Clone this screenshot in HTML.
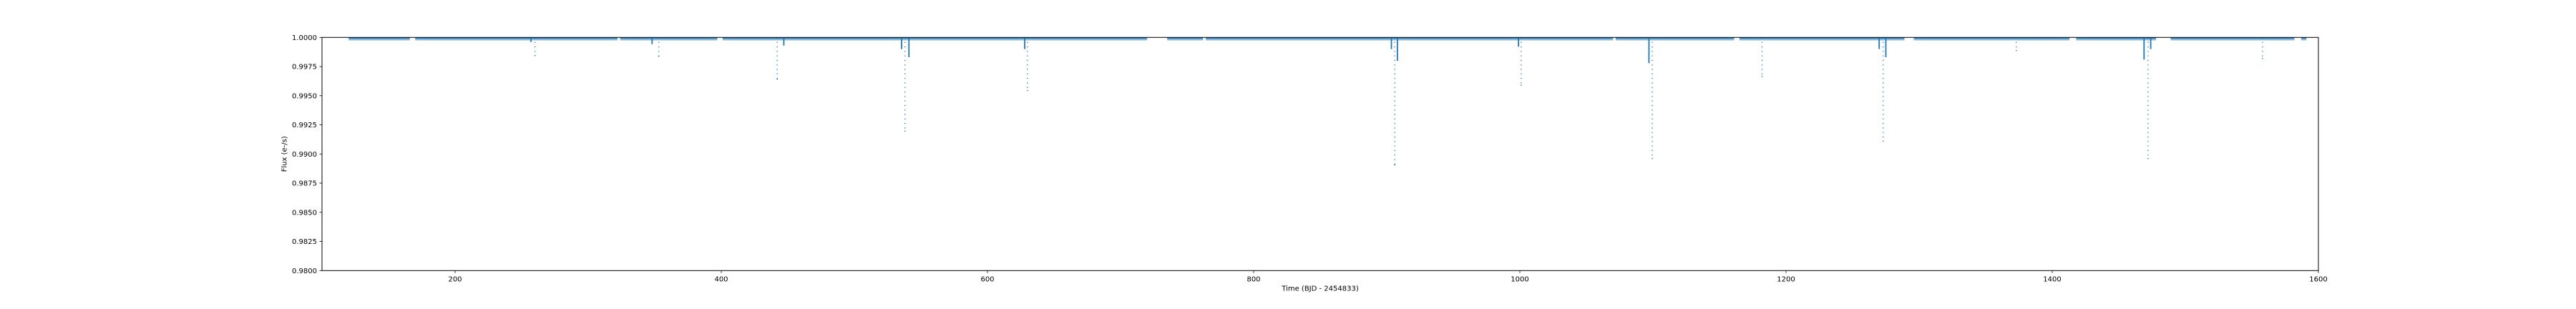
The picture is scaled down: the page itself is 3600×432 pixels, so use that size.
<!DOCTYPE html>
<html><head><meta charset="utf-8"><style>
html,body{margin:0;padding:0;background:#fff;}
svg{display:block;font-family:"DejaVu Sans","Liberation Sans",sans-serif;}
</style></head><body>
<svg id="chart" width="3600" height="432" viewBox="0 0 3600 432">
<g id="plot"></g>
<g id="axes"></g>
</svg>
<script>
// ---- data ----
const xTicks = [200, 400, 600, 800, 1000, 1200, 1400, 1600];
const yTicks = [0.98, 0.9825, 0.985, 0.9875, 0.99, 0.9925, 0.995, 0.9975, 1.0];
const yTickLabels = ["0.9800","0.9825","0.9850","0.9875","0.9900","0.9925","0.9950","0.9975","1.0000"];
// observed data segments [start, end] in days
const segStarts = [120, 170, 324, 401, 735, 764, 1072, 1165, 1296, 1418, 1489, 1587];
const segEnds   = [166, 322, 397, 720, 762, 1070, 1161, 1289, 1413, 1478, 1582, 1591];
// deep transit dips
const dipTimes  = [260, 353, 442, 538, 630, 906, 1001, 1099.5, 1182, 1273, 1373, 1472, 1558];
const dipDepths = [0.99844, 0.99838, 0.99642, 0.99196, 0.99544, 0.98906, 0.99589, 0.98961, 0.99666, 0.99110, 0.99887, 0.98961, 0.9982];
// shallow companion dips (dense part)
const subTimes  = [257, 348, 447, 535.5, 541, 628, 903.5, 908, 999, 1097, 1270, 1275, 1469, 1474];
const subDepths = [0.9996, 0.99942, 0.9993, 0.9990, 0.9983, 0.9990, 0.9990, 0.9980, 0.9992, 0.99779, 0.9990, 0.9983, 0.9981, 0.9990];

// ---- scales ----
const X0 = 450, X1 = 3240, Y0 = 52.3, Y1 = 378.3;
const xMin = 100, xMax = 1600, yMin = 0.98, yMax = 1.0;
const xs = t => X0 + (t - xMin) / (xMax - xMin) * (X1 - X0);
const ys = f => Y1 - (f - yMin) / (yMax - yMin) * (Y1 - Y0);
const NS = "http://www.w3.org/2000/svg";
function mk(tag, attrs, parent) {
  const e = document.createElementNS(NS, tag);
  for (const k in attrs) e.setAttribute(k, attrs[k]);
  parent.appendChild(e);
  return e;
}
const plot = document.getElementById('plot');
const axes = document.getElementById('axes');
const blue = "#1f77b4";

// baseline bands
segStarts.forEach((s, i) => {
  const r = mk('rect', {x: xs(s), y: ys(1.0), width: Math.max(0, xs(segEnds[i]) - xs(s)), height: ys(0.99982) - ys(1.0), fill: blue, opacity: 0.8}, plot);
  
  
  const r2 = mk('rect', {x: xs(s), y: ys(0.99982), width: Math.max(0, xs(segEnds[i]) - xs(s)), height: ys(0.99972) - ys(0.99982), fill: blue, opacity: 0.3}, plot);
  
  
});
// deep dips: dotted vertical series
dipTimes.forEach((t, i) => {
  const l = mk('line', {x1: xs(t), x2: xs(t), y1: ys(1.0), y2: ys(dipDepths[i]), stroke: blue, 'stroke-width': 1.3, 'stroke-dasharray': '1.3 5'}, plot);
  
  
  const c = mk('circle', {cx: xs(t), cy: ys(dipDepths[i]), r: 0.8, fill: blue}, plot);
  
  
});
// shallow dips: dense solid
subTimes.forEach((t, i) => {
  const l = mk('line', {x1: xs(t), x2: xs(t), y1: ys(1.0), y2: ys(subDepths[i]), stroke: blue, 'stroke-width': 1.8}, plot);
  
  
});

// axes frame
const frame = mk('rect', {x: X0, y: Y0, width: X1 - X0, height: Y1 - Y0, fill: 'none', stroke: '#000', 'stroke-width': 1}, axes);


xTicks.forEach(v => {
  const x = xs(v);
  const t = mk('line', {x1: x, x2: x, y1: Y1, y2: Y1 + 3.5, stroke: '#000', 'stroke-width': 0.8}, axes);
  
  
  const tx = mk('text', {x: x, y: Y1 + 15, 'font-size': 10, 'text-anchor': 'middle', fill: '#000'}, axes);
  tx.textContent = String(v);
  
  
});
yTicks.forEach((v, i) => {
  const y = ys(v);
  const t = mk('line', {x1: X0 - 3.5, x2: X0, y1: y, y2: y, stroke: '#000', 'stroke-width': 0.8}, axes);
  
  
  const tx = mk('text', {x: X0 - 7, y: y + 3.6, 'font-size': 10, 'text-anchor': 'end', fill: '#000'}, axes);
  tx.textContent = yTickLabels[i];
  
  
});
const xl = mk('text', {x: (X0 + X1) / 2, y: 406.5, 'font-size': 10, 'text-anchor': 'middle', fill: '#000'}, axes);
xl.textContent = 'Time (BJD - 2454833)';


const yl = mk('text', {x: 0, y: 0, 'font-size': 10, 'text-anchor': 'middle', fill: '#000', transform: 'translate(400.5,215.3) rotate(-90)'}, axes);
yl.textContent = 'Flux (e-/s)';


</script>
</body></html>
